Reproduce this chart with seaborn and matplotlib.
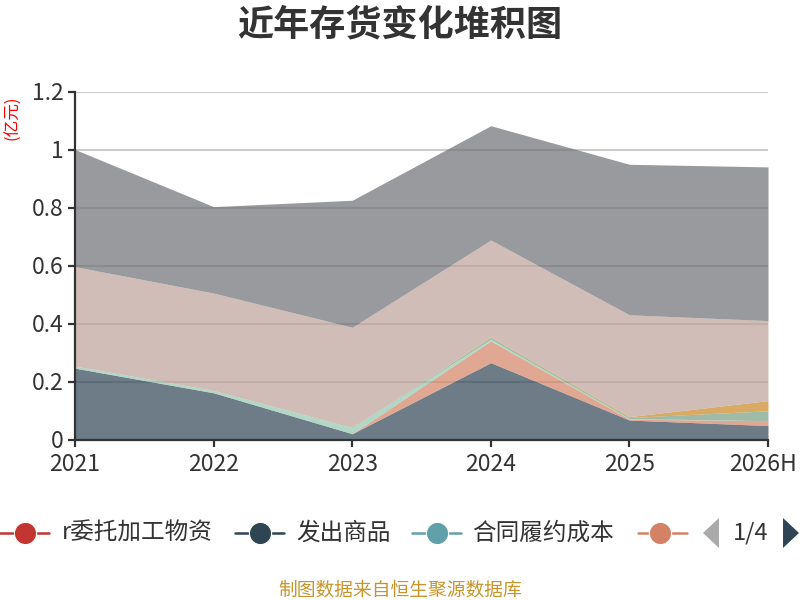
import numpy as np
import pandas as pd
import matplotlib
matplotlib.use("Agg")
import matplotlib.pyplot as plt
import matplotlib.transforms as mtransforms
import seaborn as sns
from matplotlib.lines import Line2D
from matplotlib.patches import Polygon

# --- data (亿元) ---
years = ['2021', '2022', '2023', '2024', '2025', '2026H']
series_names = ['r委托加工物资', '发出商品', '合同履约成本', '自制半成品',
                '周转材料', '在产品', '消耗性生物资产', '原材料', '库存商品']
weituo    = [0.000, 0.000, 0.002, 0.002, 0.000, 0.000]
fachu     = [0.246, 0.161, 0.018, 0.263, 0.067, 0.048]
hetong    = [0.000, 0.000, 0.000, 0.000, 0.000, 0.000]
zizhi     = [0.000, 0.000, 0.000, 0.075, 0.003, 0.017]
zhouzhuan = [0.007, 0.008, 0.021, 0.006, 0.002, 0.000]
zaichan   = [0.000, 0.000, 0.000, 0.006, 0.004, 0.034]
xiaohao   = [0.000, 0.000, 0.000, 0.002, 0.003, 0.035]
yuancailiao = [0.343, 0.336, 0.346, 0.334, 0.351, 0.276]
kucun     = [0.404, 0.298, 0.438, 0.394, 0.519, 0.530]
y_ticks = [0, 0.2, 0.4, 0.6, 0.8, 1.0, 1.2]
y_tick_labels = ['0', '0.2', '0.4', '0.6', '0.8', '1', '1.2']

df = pd.DataFrame({
    'year': years,
    series_names[0]: weituo, series_names[1]: fachu, series_names[2]: hetong,
    series_names[3]: zizhi, series_names[4]: zhouzhuan, series_names[5]: zaichan,
    series_names[6]: xiaohao, series_names[7]: yuancailiao, series_names[8]: kucun,
})

palette = sns.color_palette(['#c23531', '#2f4554', '#61a0a8', '#d48265', '#91c7ae',
                             '#749f83', '#ca8622', '#bda29a', '#6e7074'])

sns.set_theme(style="white")
plt.rcParams['font.family'] = ['Noto Sans CJK SC', 'DejaVu Sans']

W, H = 800, 600
fig = plt.figure(figsize=(8, 6), dpi=100)
ax = fig.add_axes([75 / W, 1 - 439.5 / H, (768 - 75) / W, (439.5 - 91.5) / H])

x = np.arange(len(df))
ax.stackplot(x, *[df[n].values for n in series_names], colors=palette,
             alpha=0.7, linewidth=0)

ax.set_xlim(0, len(df) - 1)
ax.set_ylim(0, 1.2)
ax.set_xticks(x)
ax.set_xticklabels(df['year'])
ax.set_yticks(y_ticks)
ax.set_yticklabels(y_tick_labels)
ax.yaxis.grid(True, color='#cccccc', linewidth=1.5)
ax.xaxis.grid(False)
ax.set_axisbelow(True)
for s in ['top', 'right']:
    ax.spines[s].set_visible(False)
for s in ['left', 'bottom']:
    ax.spines[s].set_color('#333333')
    ax.spines[s].set_linewidth(1.6)
ax.tick_params(axis='both', which='major', direction='out', length=5, width=1.6,
               color='#333333', labelsize=16.5, labelcolor='#333333',
               left=True, bottom=True)
ax.tick_params(axis='y', pad=3)
ax.tick_params(axis='x', pad=5)

# keep the last category label inside the canvas
last = ax.get_xticklabels()[-1]
last.set_transform(last.get_transform() +
                   mtransforms.ScaledTranslation(-5 / 100, 0, fig.dpi_scale_trans))

# unit label
fig.text(13 / W, 1 - 118 / H, '(亿元)', rotation=90, color='red', fontsize=12,
         ha='center', va='center')

# title
fig.text(0.5, 1 - 25 / H, '近年存货变化堆积图', ha='center', va='center',
         fontsize=26, fontweight='bold', color='#333333')

# legend (first page of 4)
ly = 1 - 533 / H
items = [(0, 25, 62), (235, 260, 296), (412, 437, 472), (638, 660, None)]
for i, (lx0, cx, tx) in enumerate(items):
    fig.add_artist(Line2D([lx0 / W, (lx0 + 49) / W], [ly, ly], color=palette[i],
                          linewidth=1.8, transform=fig.transFigure))
    fig.add_artist(Line2D([cx / W], [ly], marker='o', markersize=16,
                          color=palette[i], markeredgecolor='white',
                          markeredgewidth=0.8, transform=fig.transFigure))
    if tx is not None:
        fig.text(tx / W, ly, series_names[i], ha='left', va='center',
                 fontsize=17, color='#333333')

def px_poly(pts, color):
    fig.add_artist(Polygon([(px / W, 1 - py / H) for px, py in pts], closed=True,
                           facecolor=color, edgecolor='none',
                           transform=fig.transFigure))

px_poly([(719, 518), (719, 548), (703, 533)], '#aaaaaa')
fig.text(751 / W, ly, '1/4', ha='center', va='center', fontsize=17, color='#333333')
px_poly([(783, 518), (783, 548), (799, 533)], '#2f4554')

# source note
fig.text(0.5, 1 - 590 / H, '制图数据来自恒生聚源数据库', ha='center', va='center',
         fontsize=13.5, color='#c8952c')

fig.savefig('out.png', dpi=100)
